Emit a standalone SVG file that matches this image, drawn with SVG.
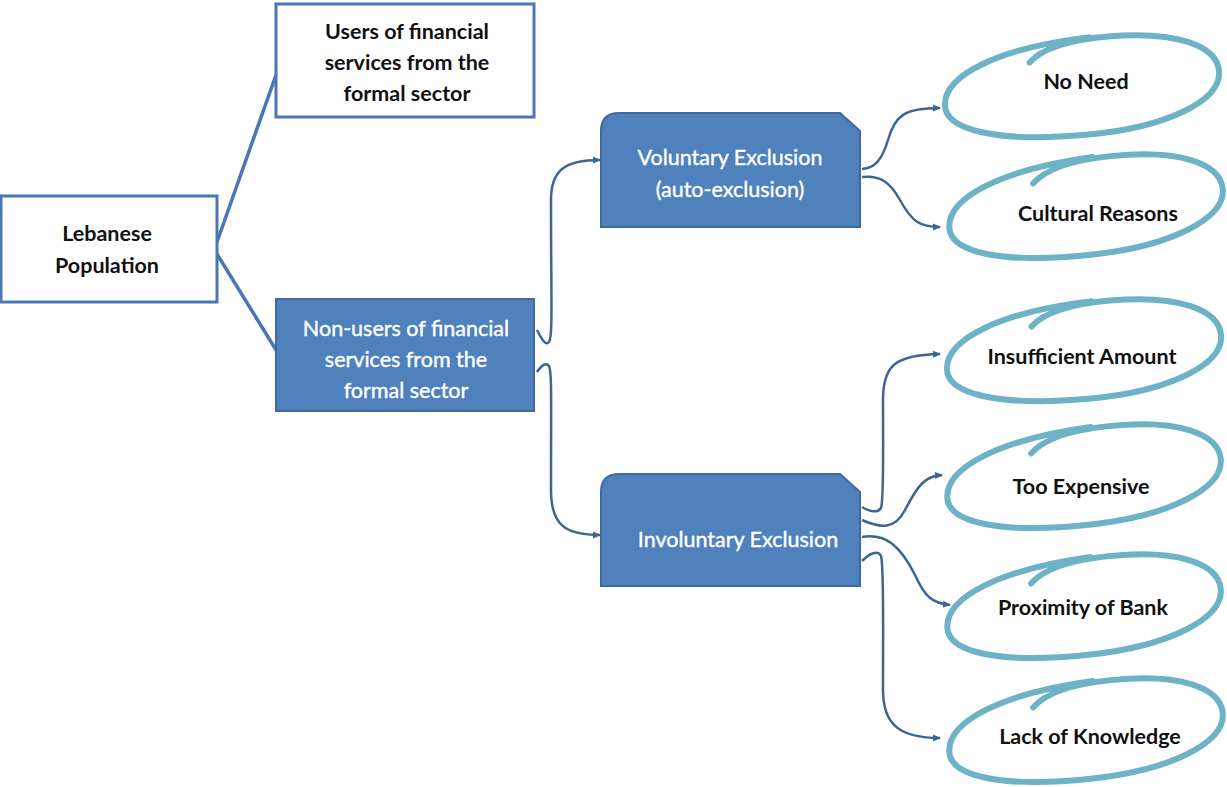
<svg xmlns="http://www.w3.org/2000/svg" width="1227" height="787" viewBox="0 0 1227 787">
<style>
.box{fill:#ffffff;stroke:#4a76b4;stroke-width:3}
.fill{fill:#4f81bd;stroke:#41699c;stroke-width:2}
.bt{font-family:Lato,"Liberation Sans",sans-serif;font-size:21.5px;font-weight:bold;fill:#111;text-anchor:middle}
.wt{font-family:Lato,"Liberation Sans",sans-serif;font-size:21.5px;fill:#fff;text-anchor:middle;stroke:#fff;stroke-width:0.4}
.line{fill:none;stroke:#4a76b4;stroke-width:3.5}
.conn{fill:none;stroke:#3d6594;stroke-width:2.5}
.loop{fill:none;stroke:#6eb2c6;stroke-width:6;stroke-linecap:round}
</style>
<defs>
<marker id="ah" markerWidth="8" markerHeight="8" refX="7" refY="4" orient="auto" markerUnits="userSpaceOnUse">
<path d="M0,0.5 L8,4 L0,7.5 Z" fill="#3d6594"/>
</marker>
<path id="loopShape" d="M -50,-30 C -35,-44 -5,-49 30,-49 C 100,-49 138,-30 138,-5 C 138,25 80,47 0,47 C -90,47 -140,30 -138,5 C -136,-25 -80,-47 12,-50"/>
</defs>

<g id="connectors">
<path class="line" d="M217,242 L276,75"/>
<path class="line" d="M217,254 L276,350"/>
<path class="conn" marker-end="url(#ah)" d="M537,330 C542,340 546,346 549,342 C553,336 551,300 551,200 C551,170 565,160 600,160"/>
<path class="conn" marker-end="url(#ah)" d="M537,372 C542,365 546,362 549,366 C552,372 551,400 551,490 C551,525 565,535 600,535"/>
<path class="conn" marker-end="url(#ah)" d="M862,169 C875,168 882,160 888,140 C895,115 905,108 940,108"/>
<path class="conn" marker-end="url(#ah)" d="M862,177 C880,175 890,182 900,200 C912,222 920,227 940,227"/>
<path class="conn" marker-end="url(#ah)" d="M862,507 C870,512 878,513 881,508 C884,500 883,450 883,400 C883,365 895,355 940,354"/>
<path class="conn" marker-end="url(#ah)" d="M862,520 C880,528 895,530 905,510 C918,485 925,476 942,475"/>
<path class="conn" marker-end="url(#ah)" d="M862,537 C885,533 900,545 915,575 C925,597 932,603 950,605"/>
<path class="conn" marker-end="url(#ah)" d="M862,561 C870,553 878,550 881,556 C884,565 883,620 883,690 C883,725 900,738 940,738"/>
</g>

<g id="n-lebanese">
<rect class="box" x="1" y="196" width="216" height="106"/>
<text class="bt" x="107" y="241">Lebanese</text>
<text class="bt" x="107" y="273">Population</text>
</g>

<g id="n-users">
<rect class="box" x="276" y="4" width="258" height="113"/>
<text class="bt" x="407" y="39">Users of financial</text>
<text class="bt" x="407" y="70">services from the</text>
<text class="bt" x="407" y="101">formal sector</text>
</g>

<g id="n-nonusers">
<rect class="fill" x="276" y="299" width="258" height="112"/>
<text class="wt" x="406" y="336">Non-users of financial</text>
<text class="wt" x="406" y="367">services from the</text>
<text class="wt" x="406" y="398">formal sector</text>
</g>

<g id="n-voluntary">
<path class="fill" d="M601,131 Q601,113 619,113 L840,113 L860,131 L860,227 L601,227 Z"/>
<text class="wt" x="730" y="165">Voluntary Exclusion</text>
<text class="wt" x="730" y="197">(auto-exclusion)</text>
</g>

<g id="n-involuntary">
<path class="fill" d="M601,492 Q601,474 619,474 L840,474 L860,492 L860,586 L601,586 Z"/>
<text class="wt" x="738" y="547">Involuntary Exclusion</text>
</g>

<g id="n-noneed">
<use href="#loopShape" class="loop" transform="translate(1082,88) rotate(-5)"/>
<text class="bt" x="1086" y="89">No Need</text>
</g>
<g id="n-cultural">
<use href="#loopShape" class="loop" transform="translate(1086,208) rotate(-6)"/>
<text class="bt" x="1098" y="221">Cultural  Reasons</text>
</g>
<g id="n-insufficient">
<use href="#loopShape" class="loop" transform="translate(1084,352) rotate(-5)"/>
<text class="bt" x="1082" y="364">Insufficient Amount</text>
</g>
<g id="n-expensive">
<use href="#loopShape" class="loop" transform="translate(1084,478) rotate(-6)"/>
<text class="bt" x="1081" y="494">Too Expensive</text>
</g>
<g id="n-proximity">
<use href="#loopShape" class="loop" transform="translate(1084,608) rotate(-6)"/>
<text class="bt" x="1083" y="615">Proximity of Bank</text>
</g>
<g id="n-lack">
<use href="#loopShape" class="loop" transform="translate(1086,732) rotate(-6)"/>
<text class="bt" x="1090" y="744">Lack of Knowledge</text>
</g>
</svg>
